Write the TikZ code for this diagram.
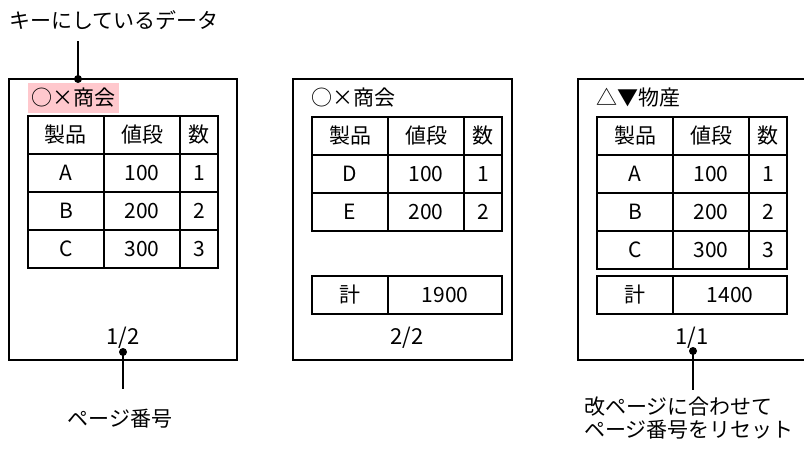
\documentclass[tikz,border=0pt]{standalone}
\usepackage{fontspec}
\setmainfont{Noto Sans CJK JP}
\definecolor{keypink}{RGB}{255,200,205}
\begin{document}
\begin{tikzpicture}[x=1pt,y=-1pt,
  pagebox/.style={draw, line width=2pt},
  cell/.style={draw, line width=2pt, inner sep=0pt, font=\fontsize{21}{24}\selectfont},
  txt/.style={inner sep=0pt, font=\fontsize{21}{24}\selectfont},
  dotmark/.style={circle, fill, inner sep=0pt, minimum size=8pt},
  conn/.style={line width=2pt}]
\useasboundingbox (0,0) rectangle (804,450);
\newcommand\tcell[6]{\node[cell, minimum width={#4-#2}, minimum height={#5-#3}] (#1) at ({(#2+#4)/2},{(#3+#5)/2}) {#6};}

% page boxes
\draw[pagebox] (9,79) rectangle (237,359.5);
\draw[pagebox] (293,79) rectangle (512,359.5);
\draw[pagebox] (578,79) rectangle (830,359.5);

% titles
\node[txt, fill=keypink, minimum width=91pt, minimum height=30pt] (ta) at (73.5,98) {○×商会};
\node[txt, anchor=west] (tb) at (311,98) {○×商会};
\node[txt, anchor=west] (tc) at (596,98) {△▼物産};

% table 1
\tcell{a11}{28}{116}{104}{154}{製品}
\tcell{a12}{104}{116}{180}{154}{値段}
\tcell{a13}{180}{116}{218}{154}{数}
\tcell{a21}{28}{154}{104}{192}{A}
\tcell{a22}{104}{154}{180}{192}{100}
\tcell{a23}{180}{154}{218}{192}{1}
\tcell{a31}{28}{192}{104}{230}{B}
\tcell{a32}{104}{192}{180}{230}{200}
\tcell{a33}{180}{192}{218}{230}{2}
\tcell{a41}{28}{230}{104}{268}{C}
\tcell{a42}{104}{230}{180}{268}{300}
\tcell{a43}{180}{230}{218}{268}{3}

% table 2
\tcell{b11}{312}{117}{388}{155}{製品}
\tcell{b12}{388}{117}{464}{155}{値段}
\tcell{b13}{464}{117}{502}{155}{数}
\tcell{b21}{312}{155}{388}{193}{D}
\tcell{b22}{388}{155}{464}{193}{100}
\tcell{b23}{464}{155}{502}{193}{1}
\tcell{b31}{312}{193}{388}{231}{E}
\tcell{b32}{388}{193}{464}{231}{200}
\tcell{b33}{464}{193}{502}{231}{2}
\tcell{bt1}{312}{276}{388}{314}{計}
\tcell{bt2}{388}{276}{502}{314}{1900}

% table 3
\tcell{c11}{597}{117}{673}{155}{製品}
\tcell{c12}{673}{117}{749}{155}{値段}
\tcell{c13}{749}{117}{787}{155}{数}
\tcell{c21}{597}{155}{673}{193}{A}
\tcell{c22}{673}{155}{749}{193}{100}
\tcell{c23}{749}{155}{787}{193}{1}
\tcell{c31}{597}{193}{673}{231}{B}
\tcell{c32}{673}{193}{749}{231}{200}
\tcell{c33}{749}{193}{787}{231}{2}
\tcell{c41}{597}{231}{673}{269}{C}
\tcell{c42}{673}{231}{749}{269}{300}
\tcell{c43}{749}{231}{787}{269}{3}
\tcell{ct1}{597}{276}{673}{314}{計}
\tcell{ct2}{673}{276}{787}{314}{1400}

% page numbers
\node[txt, font=\fontsize{22}{24}\selectfont] (pa) at (123,338) {1/2};
\node[txt, font=\fontsize{22}{24}\selectfont] (pb) at (407,338) {2/2};
\node[txt, font=\fontsize{22}{24}\selectfont] (pc) at (692,338) {1/1};

% callouts
\node[txt, anchor=west] (keylbl) at (9,20) {キーにしているデータ};
\node[dotmark] (d1) at (78,79) {};
\coordinate (e1) at (78,41);
\draw[conn] (e1) -- (d1.center);

\node[dotmark] (d2) at (123,352) {};
\coordinate (e2) at (123,389);
\draw[conn] (d2.center) -- (e2);
\node[txt] (pglbl) at (120,419) {ページ番号};

\node[dotmark] (d3) at (693,351) {};
\coordinate (e3) at (693,390);
\draw[conn] (d3.center) -- (e3);
\node[txt, anchor=west, align=left, font=\fontsize{21}{23}\selectfont] (rslbl) at (584,418.5) {改ページに合わせて\\ページ番号をリセット};
\end{tikzpicture}
\end{document}
